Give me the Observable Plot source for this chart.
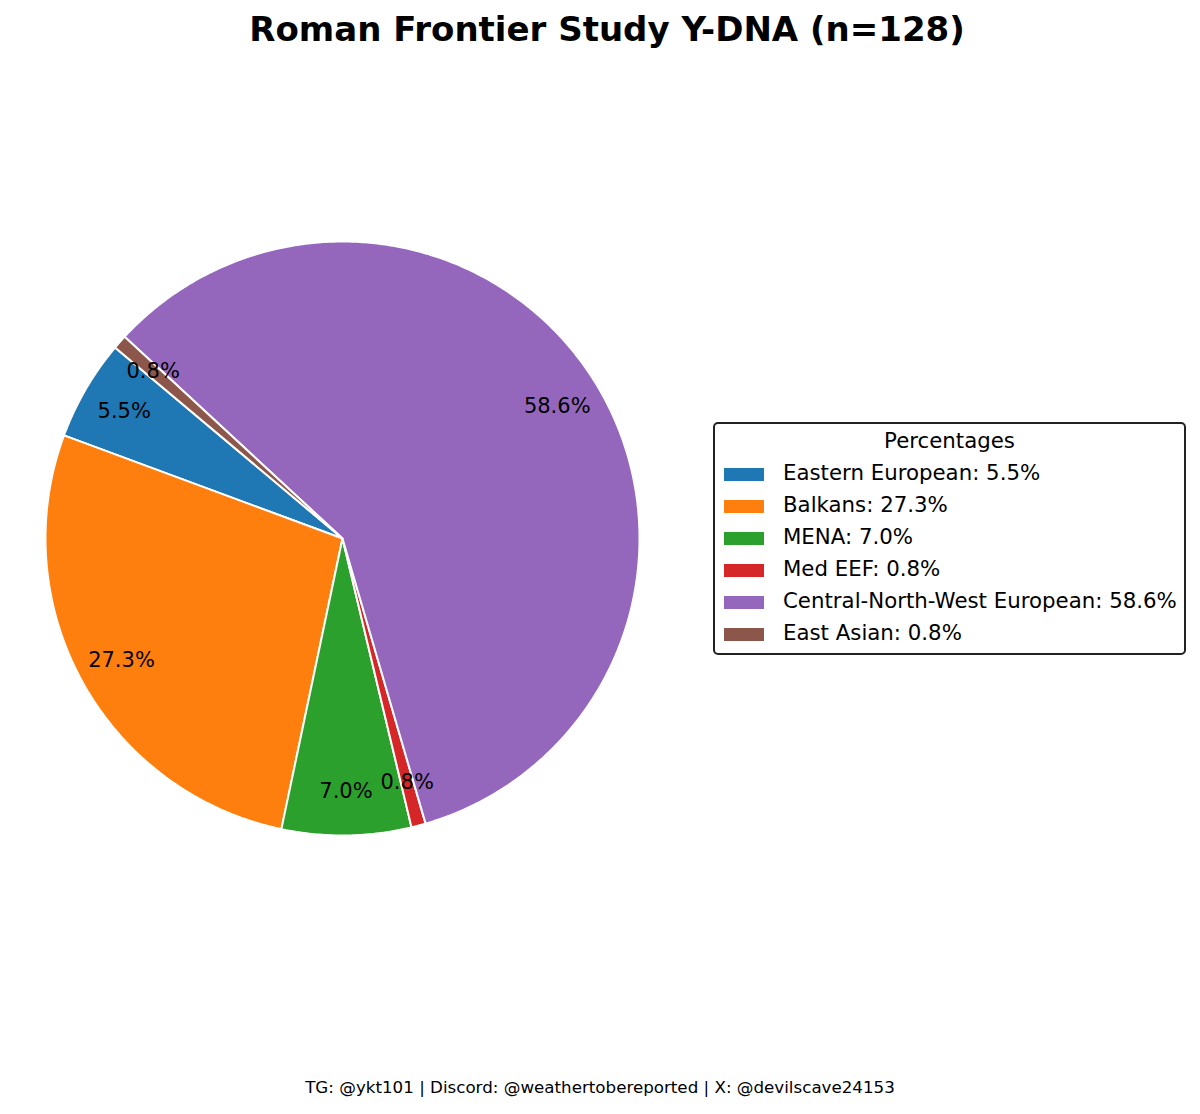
<!DOCTYPE html>
<html>
<head>
<meta charset="utf-8">
<script src="https://cdn.jsdelivr.net/npm/d3@7"></script>
<script src="https://cdn.jsdelivr.net/npm/@observablehq/plot@0.6"></script>
<style>
  html, body { margin: 0; padding: 0; background: #fff; }
  body { width: 1200px; height: 1114px; position: relative; overflow: hidden; font-family: "DejaVu Sans", sans-serif; }
  #title { position: absolute; left: 7px; width: 1200px; top: 9px; text-align: center; font-weight: bold; font-size: 34px; color: #000; }
  #caption { position: absolute; left: 0; width: 1200px; top: 1077px; text-align: center; font-size: 16.7px; color: #000; }
  #chart { position: absolute; left: 0; top: 0; }
  #legend { position: absolute; left: 713px; top: 422px; width: 473px; height: 233px; border: 2px solid #222; border-radius: 5px; box-sizing: border-box; background: #fff; }
  #legend .lt { position: absolute; left: 0; width: 100%; top: 4px; text-align: center; font-size: 21.3px; }
  #legend .row { position: absolute; left: 9px; font-size: 21.3px; white-space: nowrap; }
  #legend .sw { position: absolute; left: 0; top: 7px; width: 40px; height: 13px; }
  #legend .lab { position: absolute; left: 59px; top: -1px; }
</style>
</head>
<body>
<div id="title">Roman Frontier Study Y-DNA (n=128)</div>
<div id="chart"></div>
<div id="legend"></div>
<div id="caption">TG: @ykt101 | Discord: @weathertobereported | X: @devilscave24153</div>
<script>
const categories = ["Eastern European", "Balkans", "MENA", "Med EEF", "Central-North-West European", "East Asian"];
const counts = [7, 35, 9, 1, 75, 1];
const percentLabels = ["5.5%", "27.3%", "7.0%", "0.8%", "58.6%", "0.8%"];
const colors = ["#1f77b4", "#ff7f0e", "#2ca02c", "#d62728", "#9467bd", "#8c564b"];
const startAngle = 140;     // degrees, counter-clockwise
const pctDistance = 0.85;

const total = d3.sum(counts);
const cx = 342, cy = 538, R = 297;

// wedge outlines (geometry derived from counts)
const wedges = [];
const labels = [];
let a0 = startAngle;
categories.forEach((name, i) => {
  const span = counts[i] / total * 360;
  const a1 = a0 + span;
  const pts = [{name, x: 0, y: 0}];
  const steps = Math.max(4, Math.ceil(span / 0.5));
  for (let k = 0; k <= steps; k++) {
    const a = (a0 + span * k / steps) * Math.PI / 180;
    pts.push({name, x: Math.cos(a), y: Math.sin(a)});
  }
  pts.push({name, x: 0, y: 0});
  wedges.push(...pts);
  const am = (a0 + span / 2) * Math.PI / 180;
  labels.push({name, text: percentLabels[i], x: pctDistance * Math.cos(am), y: pctDistance * Math.sin(am)});
  a0 = a1;
});

const chart = Plot.plot({
  width: 1200,
  height: 1114,
  margin: 0,
  x: {domain: [-1, 1], range: [cx - R, cx + R], axis: null},
  y: {domain: [-1, 1], range: [cy + R, cy - R], axis: null},
  color: {domain: categories, range: colors},
  style: {background: "transparent", fontFamily: "DejaVu Sans, sans-serif"},
  marks: [
    Plot.line(wedges, {x: "x", y: "y", z: "name", fill: "name", stroke: "white", strokeWidth: 2, strokeLinejoin: "round", curve: "linear"}),
    Plot.text(labels, {x: "x", y: "y", text: "text", fontSize: 21, fill: "black", textAnchor: "middle", lineAnchor: "middle"})
  ]
});
document.getElementById("chart").appendChild(chart);

// legend
const legend = document.getElementById("legend");
const lt = document.createElement("div");
lt.className = "lt";
lt.textContent = "Percentages";
legend.appendChild(lt);
categories.forEach((name, i) => {
  const row = document.createElement("div");
  row.className = "row";
  row.style.top = (37 + i * 32) + "px";
  const sw = document.createElement("div");
  sw.className = "sw";
  sw.style.background = colors[i];
  const lab = document.createElement("div");
  lab.className = "lab";
  lab.textContent = `${name}: ${percentLabels[i]}`;
  row.appendChild(sw);
  row.appendChild(lab);
  legend.appendChild(row);
});
</script>
</body>
</html>
